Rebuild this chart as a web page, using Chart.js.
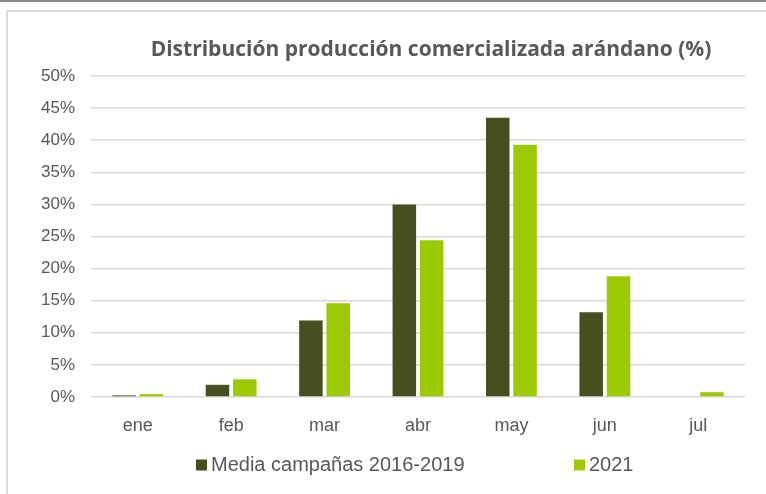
<!DOCTYPE html>
<html>
<head>
<meta charset="utf-8">
<script src="https://cdn.jsdelivr.net/npm/chart.js@4"></script>
<style>
  html, body { margin: 0; padding: 0; background: #ffffff; }
  #wrap { width: 766px; height: 494px; position: relative; }
</style>
</head>
<body>
<div id="wrap"><canvas id="c"></canvas></div>
<script>
const titleText = 'Distribución producción comercializada arándano (%)';
const categories = ['ene', 'feb', 'mar', 'abr', 'may', 'jun', 'jul'];
const seriesLabels = ['Media campañas 2016-2019', '2021'];
const mediaValues = [0.25, 1.9, 11.9, 30.0, 43.5, 13.2, 0];
const values2021 = [0.45, 2.75, 14.6, 24.4, 39.3, 18.8, 0.75];
const yTickValues = [0, 5, 10, 15, 20, 25, 30, 35, 40, 45, 50];

const darkColor = '#464F1F';
const greenColor = '#9CCA02';
const textColor = '#595959';

const framePlugin = {
  id: 'frame',
  beforeDraw(chart) {
    const ctx = chart.ctx;
    ctx.save();
    ctx.fillStyle = '#ffffff';
    ctx.fillRect(0, 0, chart.width, chart.height);
    ctx.fillStyle = '#8c8c8c';
    ctx.fillRect(0, 0, chart.width, 2);
    ctx.fillStyle = '#dadada';
    ctx.fillRect(6, 10, chart.width - 6, 2);
    ctx.fillRect(6, 10, 2, chart.height - 10);
    ctx.restore();
  }
};

const titlePlugin = {
  id: 'customTitle',
  afterDraw(chart) {
    const ctx = chart.ctx;
    ctx.save();
    ctx.fillStyle = textColor;
    ctx.font = 'bold 21px "Open Sans"';
    ctx.textAlign = 'center';
    ctx.textBaseline = 'middle';
    ctx.fillText(titleText, 431, 50);
    ctx.restore();
  }
};

const legendPlugin = {
  id: 'customLegend',
  afterDraw(chart) {
    const ctx = chart.ctx;
    const starts = [196, 574];
    const yMid = 465;
    ctx.save();
    ctx.font = '20px "Liberation Sans"';
    ctx.textBaseline = 'middle';
    ctx.textAlign = 'left';
    chart.data.datasets.forEach((ds, i) => {
      const x = starts[i];
      ctx.fillStyle = ds.backgroundColor;
      ctx.fillRect(x, yMid - 5.5, 11, 11);
      ctx.fillStyle = textColor;
      ctx.fillText(ds.label, x + 15, yMid);
    });
    ctx.restore();
  }
};

new Chart(document.getElementById('c'), {
  type: 'bar',
  data: {
    labels: categories,
    datasets: [
      { label: seriesLabels[0], data: mediaValues, backgroundColor: darkColor, borderWidth: 0 },
      { label: seriesLabels[1], data: values2021, backgroundColor: greenColor, borderWidth: 0 }
    ]
  },
  options: {
    responsive: true,
    maintainAspectRatio: false,
    devicePixelRatio: 1,
    animation: false,
    datasets: { bar: { categoryPercentage: 0.585, barPercentage: 0.86 } },
    layout: { padding: { left: 10, right: 21, top: 76, bottom: 59 } },
    plugins: {
      legend: { display: false },
      title: { display: false },
      tooltip: { enabled: false }
    },
    scales: {
      x: {
        grid: { display: false, drawTicks: false },
        border: { display: false },
        ticks: { color: textColor, font: { family: 'Liberation Sans', size: 18 }, padding: 18 },
        afterFit(s) { s.height = 38; }
      },
      y: {
        min: 0,
        max: 50,
        afterBuildTicks(s) { s.ticks = yTickValues.map(v => ({ value: v })); },
        grid: { color: '#d9d9d9', lineWidth: 1.5, drawTicks: false },
        border: { display: false },
        ticks: {
          color: textColor,
          font: { family: 'Liberation Sans', size: 17 },
          padding: 16,
          callback: v => v + '%'
        },
        afterFit(s) { s.width = 81; }
      }
    }
  },
  plugins: [framePlugin, titlePlugin, legendPlugin]
});
</script>
</body>
</html>
